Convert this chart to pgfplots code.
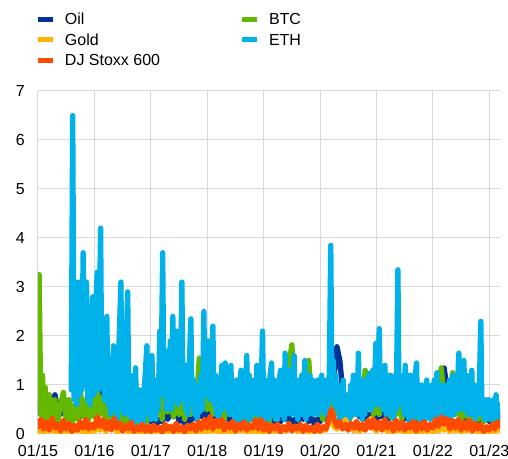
\documentclass[border=0pt]{standalone}
\usepackage{fontspec}
\setmainfont{Liberation Sans}
\usepackage{pgfplots}
\pgfplotsset{compat=1.18}
\definecolor{cOil}{HTML}{003299}
\definecolor{cGold}{HTML}{FFB400}
\definecolor{cStoxx}{HTML}{FF4B00}
\definecolor{cBTC}{HTML}{65B800}
\definecolor{cETH}{HTML}{00B1EA}
\definecolor{cGrid}{HTML}{D9D9D9}
\begin{document}
\fontsize{12}{14}\selectfont
\begin{tikzpicture}
\useasboundingbox (-28.5pt,-18.75pt) rectangle (352.5pt,325.5pt);
\begin{axis}[
 scale only axis, width=346.5pt, height=257.25pt,
 xmin=2015, xmax=2023.19, ymin=0, ymax=7,
 xtick={2015,2016,2017,2018,2019,2020,2021,2022,2023},
 xticklabels={01/15,01/16,01/17,01/18,01/19,01/20,01/21,01/22,01/23},
 ytick={0,1,2,3,4,5,6,7},
 grid=major, grid style={cGrid, line width=0.75pt},
 axis line style={draw=none},
 major tick length=0pt,
 /pgf/number format/assume math mode=true,
 tick label style={font=\fontsize{12}{14}\selectfont, inner sep=0pt, text depth=0pt},
 xticklabel style={anchor=north, yshift=-8.25pt},
 yticklabel style={anchor=east, xshift=-9.75pt},
 legend columns=2,
 legend cell align=left,
 legend style={at={(axis description cs:0,1)}, anchor=south west, yshift=18.75pt,
   draw=none, fill=none, inner sep=0pt, outer sep=0pt, row sep=6.8pt,
   nodes={inner sep=0pt, text height=8.6pt, text depth=0pt, font=\fontsize{12}{14}\selectfont},
   /tikz/every odd column/.append style={column sep=9pt},
   /tikz/every even column/.append style={column sep=61.4pt}},
 legend image code/.code={\fill[#1, draw=none, line width=0pt, sharp corners] (0pt,-1.875pt) rectangle (11.25pt,1.875pt);},
 every axis plot/.append style={line width=4pt, line join=round, line cap=round},
]
% Oil
\addplot[cOil, forget plot] coordinates {
(2015.00,0.60)(2015.05,0.40)(2015.10,0.75)(2015.15,0.45)(2015.20,0.55)(2015.25,0.35)(2015.30,0.80)(2015.35,0.50)(2015.40,0.40)(2015.45,0.65)(2015.50,0.35)(2015.55,0.55)(2015.60,0.30)(2015.65,0.45)(2015.70,0.60)(2015.75,0.35)(2015.80,0.50)(2015.85,0.30)(2015.90,0.55)(2015.95,0.45)
(2016.00,0.70)(2016.05,0.95)(2016.10,0.60)(2016.15,0.85)(2016.20,0.50)(2016.25,0.65)(2016.30,0.40)(2016.35,0.55)(2016.40,0.35)(2016.45,0.50)(2016.50,0.30)(2016.55,0.45)(2016.60,0.25)(2016.65,0.40)(2016.70,0.30)(2016.75,0.50)(2016.80,0.25)(2016.85,0.40)(2016.90,0.30)(2016.95,0.45)
(2017.00,0.25)(2017.05,0.35)(2017.10,0.20)(2017.15,0.30)(2017.20,0.25)(2017.25,0.40)(2017.30,0.30)(2017.35,0.45)(2017.40,0.35)(2017.45,0.50)(2017.50,0.25)(2017.55,0.35)(2017.60,0.20)(2017.65,0.30)(2017.70,0.25)(2017.75,0.40)(2017.80,0.30)(2017.85,0.50)(2017.90,0.35)(2017.95,0.45)
(2018.00,0.30)(2018.05,0.45)(2018.10,0.25)(2018.15,0.40)(2018.20,0.20)(2018.25,0.35)(2018.30,0.30)(2018.35,0.40)(2018.40,0.25)(2018.45,0.35)(2018.50,0.20)(2018.55,0.30)(2018.60,0.25)(2018.65,0.35)(2018.70,0.20)(2018.75,0.40)(2018.80,0.30)(2018.85,0.45)(2018.90,0.35)(2018.95,0.50)
(2019.00,0.30)(2019.05,0.40)(2019.10,0.25)(2019.15,0.35)(2019.20,0.20)(2019.25,0.30)(2019.30,0.25)(2019.35,0.40)(2019.40,0.30)(2019.45,0.35)(2019.50,0.20)(2019.55,0.30)(2019.60,0.25)(2019.65,0.35)(2019.70,0.30)(2019.75,0.45)(2019.80,0.25)(2019.85,0.35)(2019.90,0.20)(2019.95,0.30)
(2020.00,0.25)(2020.05,0.35)(2020.10,0.30)(2020.15,0.50)(2020.20,0.90)(2020.25,1.20)(2020.30,1.78)(2020.35,1.50)(2020.40,0.90)(2020.45,0.70)(2020.50,0.50)(2020.55,0.60)(2020.60,0.40)(2020.65,0.50)(2020.70,0.35)(2020.75,0.45)(2020.80,0.30)(2020.85,0.40)(2020.90,0.35)(2020.95,0.50)
(2021.00,0.30)(2021.05,0.40)(2021.10,0.35)(2021.15,0.45)(2021.20,0.30)(2021.25,0.40)(2021.30,0.35)(2021.35,0.50)(2021.40,0.45)(2021.45,0.55)(2021.50,0.30)(2021.55,0.40)(2021.60,0.25)(2021.65,0.35)(2021.70,0.30)(2021.75,0.40)(2021.80,0.30)(2021.85,0.45)(2021.90,0.35)(2021.95,0.50)
(2022.00,0.40)(2022.05,0.60)(2022.10,0.90)(2022.15,1.30)(2022.20,1.35)(2022.25,0.90)(2022.30,0.60)(2022.35,0.50)(2022.40,0.40)(2022.45,0.55)(2022.50,0.35)(2022.55,0.45)(2022.60,0.30)(2022.65,0.40)(2022.70,0.30)(2022.75,0.45)(2022.80,0.25)(2022.85,0.35)(2022.90,0.30)(2022.95,0.40)
(2023.00,0.25)(2023.05,0.35)(2023.10,0.30)(2023.15,0.40)(2023.20,0.30)
};
% BTC
\addplot[cBTC, forget plot] coordinates {
(2015.00,0.50)(2015.02,3.25)(2015.05,0.40)(2015.08,1.20)(2015.10,0.30)(2015.13,0.95)(2015.15,0.30)(2015.20,0.80)(2015.25,0.35)(2015.30,0.70)(2015.35,0.25)(2015.40,0.60)(2015.45,0.85)(2015.50,0.30)(2015.55,0.70)(2015.60,0.20)(2015.65,0.60)(2015.70,0.30)(2015.75,0.90)(2015.80,0.35)(2015.85,0.70)(2015.90,0.30)(2015.95,0.80)
(2016.00,0.35)(2016.05,0.90)(2016.10,0.40)(2016.15,0.75)(2016.20,0.30)(2016.25,0.60)(2016.30,0.25)(2016.35,0.55)(2016.40,0.20)(2016.45,0.65)(2016.50,0.15)(2016.55,0.50)(2016.60,0.20)(2016.65,0.45)(2016.70,0.10)(2016.75,0.40)(2016.80,0.15)(2016.85,0.50)(2016.90,0.10)(2016.95,0.60)
(2017.00,0.30)(2017.05,0.80)(2017.10,0.40)(2017.15,0.90)(2017.20,0.30)(2017.25,1.00)(2017.30,0.45)(2017.35,0.85)(2017.40,0.35)(2017.45,0.90)(2017.50,0.40)(2017.55,0.80)(2017.60,0.30)(2017.65,0.75)(2017.70,0.40)(2017.75,0.90)(2017.80,0.50)(2017.86,1.55)(2017.90,0.60)(2017.95,1.10)
(2018.00,0.50)(2018.05,1.20)(2018.10,0.40)(2018.15,0.90)(2018.20,0.35)(2018.25,0.80)(2018.30,0.30)(2018.35,0.70)(2018.40,0.40)(2018.45,0.75)(2018.50,0.30)(2018.55,0.60)(2018.60,0.35)(2018.65,0.70)(2018.70,0.25)(2018.75,0.65)(2018.80,0.30)(2018.85,0.80)(2018.90,0.35)(2018.95,0.70)
(2019.00,0.30)(2019.05,0.60)(2019.10,0.25)(2019.15,0.70)(2019.20,0.40)(2019.25,0.90)(2019.30,0.50)(2019.35,1.20)(2019.40,0.60)(2019.45,1.40)(2019.50,1.82)(2019.55,0.80)(2019.60,0.50)(2019.65,1.00)(2019.70,0.45)(2019.75,1.20)(2019.80,1.50)(2019.85,0.60)(2019.90,0.90)(2019.95,0.40)
(2020.00,0.70)(2020.05,0.30)(2020.10,0.80)(2020.15,0.50)(2020.20,1.00)(2020.25,0.40)(2020.30,0.90)(2020.35,0.30)(2020.40,0.70)(2020.45,0.25)(2020.50,0.80)(2020.55,0.35)(2020.60,0.90)(2020.65,0.40)(2020.70,1.00)(2020.75,0.50)(2020.80,1.30)(2020.85,0.60)(2020.90,0.90)(2020.95,0.40)
(2021.00,0.80)(2021.05,0.40)(2021.10,1.00)(2021.15,0.50)(2021.20,0.90)(2021.25,0.35)(2021.30,0.80)(2021.35,0.40)(2021.40,0.85)(2021.45,0.30)(2021.50,0.70)(2021.55,0.40)(2021.60,0.80)(2021.65,0.35)(2021.70,0.60)(2021.75,0.30)(2021.80,0.70)(2021.85,0.35)(2021.90,0.80)(2021.95,0.40)
(2022.00,0.70)(2022.05,0.30)(2022.10,0.90)(2022.15,1.35)(2022.20,0.60)(2022.25,0.50)(2022.30,0.80)(2022.35,1.25)(2022.40,0.40)(2022.45,0.70)(2022.50,0.30)(2022.55,0.60)(2022.60,0.35)(2022.65,0.70)(2022.70,0.25)(2022.75,0.50)(2022.80,0.30)(2022.85,0.60)(2022.90,0.25)(2022.95,0.45)
(2023.00,0.30)(2023.05,0.50)(2023.10,0.25)(2023.15,0.45)(2023.20,0.30)
};
% ETH
\addplot[cETH, forget plot] coordinates {
(2015.59,0.9)(2015.615,6.5)(2015.64,0.7)(2015.665,1.6)(2015.685,0.6)(2015.71,3.1)(2015.735,0.8)(2015.755,2.6)(2015.775,0.9)(2015.80,3.7)(2015.825,1.0)(2015.845,2.4)(2015.86,3.1)(2015.88,0.7)(2015.90,1.8)(2015.92,0.6)(2015.945,2.0)(2015.97,2.8)(2015.99,0.8)
(2016.01,2.2)(2016.05,3.3)(2016.07,0.9)(2016.09,2.5)(2016.11,4.2)(2016.13,1.0)(2016.155,2.3)(2016.175,0.7)(2016.20,1.9)(2016.22,2.4)(2016.24,0.6)(2016.265,1.4)(2016.285,0.4)(2016.31,1.2)(2016.34,1.8)(2016.36,0.5)(2016.385,1.3)(2016.405,0.3)(2016.43,1.6)(2016.47,3.1)(2016.49,0.5)(2016.51,2.0)(2016.53,0.4)(2016.555,1.5)(2016.59,2.9)(2016.61,0.4)(2016.635,1.2)(2016.655,0.2)(2016.68,0.8)(2016.70,0.2)(2016.73,1.35)(2016.75,0.3)(2016.775,0.8)(2016.80,0.9)(2016.82,0.2)(2016.845,0.7)(2016.865,0.15)(2016.89,1.0)(2016.93,1.8)(2016.95,0.4)(2016.975,1.2)
(2017.00,0.3)(2017.02,1.6)(2017.04,0.4)(2017.065,1.0)(2017.085,0.3)(2017.11,1.1)(2017.13,0.5)(2017.16,2.1)(2017.18,0.8)(2017.21,3.7)(2017.23,0.9)(2017.255,1.7)(2017.275,0.5)(2017.30,1.5)(2017.32,0.6)(2017.345,1.9)(2017.365,0.5)(2017.39,2.4)(2017.41,0.7)(2017.44,1.8)(2017.46,2.1)(2017.48,0.6)(2017.505,1.5)(2017.525,0.7)(2017.55,3.1)(2017.57,0.8)(2017.595,1.2)(2017.615,0.5)(2017.635,1.4)(2017.655,0.4)(2017.68,1.3)(2017.71,2.35)(2017.73,0.6)(2017.755,1.1)(2017.775,0.4)(2017.80,1.0)(2017.82,0.3)(2017.845,0.9)(2017.865,0.45)(2017.89,1.2)(2017.915,0.5)(2017.94,2.5)(2017.96,0.8)(2017.98,1.4)
(2018.02,1.9)(2018.04,0.7)(2018.065,1.5)(2018.085,0.8)(2018.10,2.2)(2018.12,0.6)(2018.145,1.2)(2018.165,0.4)(2018.19,0.9)(2018.21,0.3)(2018.235,1.0)(2018.26,1.4)(2018.28,0.5)(2018.30,1.2)(2018.32,1.45)(2018.34,0.6)(2018.365,1.3)(2018.385,0.4)(2018.42,1.4)(2018.44,0.4)(2018.465,1.0)(2018.485,0.3)(2018.52,1.1)(2018.54,0.2)(2018.575,1.0)(2018.60,1.3)(2018.62,0.3)(2018.645,0.9)(2018.665,0.2)(2018.70,1.6)(2018.72,0.5)(2018.745,1.2)(2018.765,0.3)(2018.79,1.1)(2018.81,0.4)(2018.835,1.0)(2018.855,0.5)(2018.88,1.4)(2018.90,0.4)(2018.925,1.2)(2018.945,0.3)(2018.98,2.1)
(2019.00,0.5)(2019.025,1.1)(2019.045,0.3)(2019.07,1.0)(2019.09,0.3)(2019.115,1.2)(2019.14,1.45)(2019.16,0.4)(2019.185,1.1)(2019.205,0.3)(2019.23,0.9)(2019.25,0.3)(2019.275,1.1)(2019.30,1.3)(2019.32,0.4)(2019.345,1.0)(2019.365,0.3)(2019.38,1.65)(2019.40,0.4)(2019.425,1.2)(2019.445,0.5)(2019.47,1.3)(2019.49,0.4)(2019.515,1.1)(2019.54,1.6)(2019.56,0.4)(2019.585,1.0)(2019.605,0.3)(2019.63,1.1)(2019.65,0.4)(2019.675,1.2)(2019.695,0.4)(2019.73,1.5)(2019.75,0.3)(2019.775,1.0)(2019.795,0.4)(2019.82,1.2)(2019.84,0.5)(2019.865,1.1)(2019.885,0.4)(2019.91,1.0)(2019.93,0.5)(2019.955,1.1)(2019.975,0.4)
(2020.00,1.0)(2020.03,1.2)(2020.05,0.5)(2020.075,1.0)(2020.095,0.4)(2020.12,1.1)(2020.14,0.5)(2020.165,1.3)(2020.19,3.85)(2020.21,0.8)(2020.235,1.5)(2020.255,0.6)(2020.28,1.2)(2020.30,0.5)(2020.325,1.0)(2020.345,0.3)(2020.37,0.9)(2020.39,0.2)(2020.41,1.1)(2020.43,0.2)(2020.455,0.7)(2020.475,0.2)(2020.50,0.8)(2020.52,0.3)(2020.545,1.0)(2020.565,0.4)(2020.59,1.2)(2020.61,0.4)(2020.635,1.1)(2020.655,0.4)(2020.68,1.65)(2020.70,0.4)(2020.725,1.0)(2020.745,0.3)(2020.77,1.1)(2020.79,0.4)(2020.815,1.0)(2020.835,0.5)(2020.86,1.2)(2020.89,1.25)(2020.91,0.5)(2020.935,1.3)(2020.955,0.6)(2020.99,1.85)
(2021.01,0.6)(2021.05,2.15)(2021.07,0.6)(2021.095,1.3)(2021.115,0.5)(2021.15,1.4)(2021.17,0.4)(2021.195,1.0)(2021.215,0.4)(2021.24,1.2)(2021.26,0.4)(2021.285,1.0)(2021.305,0.3)(2021.33,1.2)(2021.35,0.5)(2021.38,3.35)(2021.40,0.6)(2021.425,1.2)(2021.445,0.6)(2021.47,1.1)(2021.49,0.4)(2021.51,1.4)(2021.53,0.4)(2021.555,1.0)(2021.575,0.3)(2021.60,1.2)(2021.62,0.4)(2021.645,1.1)(2021.665,0.3)(2021.69,1.2)(2021.71,1.45)(2021.73,0.4)(2021.755,1.0)(2021.775,0.3)(2021.80,1.0)(2021.82,0.4)(2021.845,0.9)(2021.865,0.3)(2021.89,1.1)(2021.91,0.4)(2021.935,0.9)(2021.955,0.3)(2021.98,1.0)
(2022.00,0.4)(2022.025,1.1)(2022.045,0.3)(2022.07,1.25)(2022.09,0.4)(2022.115,1.0)(2022.135,0.3)(2022.16,1.0)(2022.18,0.4)(2022.205,0.9)(2022.225,0.3)(2022.25,1.0)(2022.27,0.4)(2022.295,1.1)(2022.315,0.3)(2022.34,1.0)(2022.36,1.2)(2022.38,0.4)(2022.40,1.0)(2022.42,0.5)(2022.46,1.65)(2022.48,0.5)(2022.505,1.2)(2022.525,0.6)(2022.55,1.5)(2022.57,0.5)(2022.595,1.2)(2022.615,0.4)(2022.64,1.1)(2022.66,0.4)(2022.69,1.3)(2022.71,0.4)(2022.735,1.0)(2022.755,0.3)(2022.78,0.9)(2022.80,0.4)(2022.825,1.0)(2022.85,2.3)(2022.87,0.4)(2022.895,0.7)(2022.915,0.3)(2022.94,0.7)(2022.96,0.3)(2022.985,0.7)
(2023.005,0.3)(2023.03,0.6)(2023.05,0.3)(2023.075,0.7)(2023.095,0.4)(2023.12,0.8)(2023.14,0.3)(2023.165,0.6)(2023.185,0.3)(2023.20,0.45)
};
% Gold
\addplot[cGold, forget plot] coordinates {
(2015.00,0.05)(2015.05,0.10)(2015.10,0.03)(2015.15,0.12)(2015.20,0.06)(2015.25,0.15)(2015.30,0.04)(2015.35,0.10)(2015.40,0.02)(2015.45,0.08)(2015.50,0.05)(2015.55,0.12)(2015.60,0.03)(2015.65,0.10)(2015.70,0.06)(2015.75,0.14)(2015.80,0.04)(2015.85,0.09)(2015.90,0.03)(2015.95,0.10)
(2016.00,0.06)(2016.05,0.15)(2016.10,0.08)(2016.15,0.20)(2016.20,0.05)(2016.25,0.12)(2016.30,0.10)(2016.35,0.18)(2016.40,0.04)(2016.45,0.10)(2016.50,0.06)(2016.55,0.14)(2016.60,0.03)(2016.65,0.08)(2016.70,0.05)(2016.75,0.10)(2016.80,0.03)(2016.85,0.08)(2016.90,0.04)(2016.95,0.10)
(2017.00,0.03)(2017.05,0.08)(2017.10,0.05)(2017.15,0.10)(2017.20,0.02)(2017.25,0.07)(2017.30,0.04)(2017.35,0.12)(2017.40,0.03)(2017.45,0.08)(2017.50,0.05)(2017.55,0.10)(2017.60,0.02)(2017.65,0.06)(2017.70,0.04)(2017.75,0.09)(2017.80,0.03)(2017.85,0.10)(2017.90,0.05)(2017.95,0.12)
(2018.00,0.04)(2018.05,0.10)(2018.10,0.06)(2018.15,0.14)(2018.20,0.03)(2018.25,0.08)(2018.30,0.05)(2018.35,0.11)(2018.40,0.02)(2018.45,0.07)(2018.50,0.04)(2018.55,0.12)(2018.60,0.06)(2018.65,0.15)(2018.70,0.03)(2018.75,0.09)(2018.80,0.05)(2018.85,0.12)(2018.90,0.04)(2018.95,0.10)
(2019.00,0.03)(2019.05,0.08)(2019.10,0.05)(2019.15,0.12)(2019.20,0.04)(2019.25,0.10)(2019.30,0.06)(2019.35,0.15)(2019.40,0.05)(2019.45,0.18)(2019.50,0.08)(2019.55,0.14)(2019.60,0.04)(2019.65,0.10)(2019.70,0.06)(2019.75,0.12)(2019.80,0.03)(2019.85,0.08)(2019.90,0.05)(2019.95,0.10)
(2020.00,0.04)(2020.05,0.10)(2020.10,0.08)(2020.15,0.20)(2020.20,0.38)(2020.25,0.15)(2020.30,0.10)(2020.35,0.22)(2020.40,0.12)(2020.45,0.30)(2020.50,0.08)(2020.55,0.18)(2020.60,0.06)(2020.65,0.14)(2020.70,0.05)(2020.75,0.12)(2020.80,0.08)(2020.85,0.20)(2020.90,0.32)(2020.95,0.12)
(2021.00,0.06)(2021.05,0.15)(2021.10,0.08)(2021.15,0.12)(2021.20,0.05)(2021.25,0.10)(2021.30,0.04)(2021.35,0.09)(2021.40,0.06)(2021.45,0.12)(2021.50,0.03)(2021.55,0.08)(2021.60,0.05)(2021.65,0.10)(2021.70,0.04)(2021.75,0.08)(2021.80,0.03)(2021.85,0.10)(2021.90,0.05)(2021.95,0.12)
(2022.00,0.04)(2022.05,0.10)(2022.10,0.06)(2022.15,0.18)(2022.20,0.08)(2022.25,0.14)(2022.30,0.05)(2022.35,0.12)(2022.40,0.06)(2022.45,0.15)(2022.50,0.04)(2022.55,0.10)(2022.60,0.06)(2022.65,0.12)(2022.70,0.05)(2022.75,0.14)(2022.80,0.04)(2022.85,0.10)(2022.90,0.03)(2022.95,0.08)
(2023.00,0.04)(2023.05,0.10)(2023.10,0.05)(2023.15,0.12)(2023.20,0.06)
};
% DJ Stoxx 600
\addplot[cStoxx, forget plot] coordinates {
(2015.00,0.15)(2015.05,0.30)(2015.10,0.10)(2015.15,0.25)(2015.20,0.08)(2015.25,0.32)(2015.30,0.12)(2015.35,0.20)(2015.40,0.06)(2015.45,0.28)(2015.50,0.10)(2015.55,0.22)(2015.60,0.05)(2015.65,0.18)(2015.70,0.08)(2015.75,0.25)(2015.80,0.12)(2015.85,0.30)(2015.90,0.10)(2015.95,0.20)
(2016.00,0.12)(2016.05,0.35)(2016.10,0.15)(2016.15,0.30)(2016.20,0.10)(2016.25,0.25)(2016.30,0.08)(2016.35,0.32)(2016.40,0.12)(2016.45,0.22)(2016.50,0.06)(2016.55,0.18)(2016.60,0.10)(2016.65,0.24)(2016.70,0.05)(2016.75,0.15)(2016.80,0.08)(2016.85,0.20)(2016.90,0.06)(2016.95,0.16)
(2017.00,0.05)(2017.05,0.18)(2017.10,0.08)(2017.15,0.14)(2017.20,0.04)(2017.25,0.20)(2017.30,0.10)(2017.35,0.16)(2017.40,0.05)(2017.45,0.22)(2017.50,0.08)(2017.55,0.15)(2017.60,0.04)(2017.65,0.18)(2017.70,0.10)(2017.75,0.20)(2017.80,0.06)(2017.85,0.25)(2017.90,0.10)(2017.95,0.30)
(2018.00,0.12)(2018.05,0.35)(2018.10,0.10)(2018.15,0.28)(2018.20,0.15)(2018.25,0.30)(2018.30,0.08)(2018.35,0.22)(2018.40,0.12)(2018.45,0.26)(2018.50,0.06)(2018.55,0.20)(2018.60,0.10)(2018.65,0.25)(2018.70,0.08)(2018.75,0.18)(2018.80,0.12)(2018.85,0.28)(2018.90,0.10)(2018.95,0.30)
(2019.00,0.08)(2019.05,0.22)(2019.10,0.05)(2019.15,0.18)(2019.20,0.10)(2019.25,0.20)(2019.30,0.04)(2019.35,0.15)(2019.40,0.08)(2019.45,0.22)(2019.50,0.06)(2019.55,0.16)(2019.60,0.10)(2019.65,0.20)(2019.70,0.05)(2019.75,0.18)(2019.80,0.08)(2019.85,0.14)(2019.90,0.05)(2019.95,0.20)
(2020.00,0.06)(2020.05,0.15)(2020.10,0.10)(2020.15,0.28)(2020.20,0.50)(2020.25,0.30)(2020.30,0.15)(2020.35,0.25)(2020.40,0.10)(2020.45,0.20)(2020.50,0.08)(2020.55,0.22)(2020.60,0.12)(2020.65,0.26)(2020.70,0.10)(2020.75,0.20)(2020.80,0.08)(2020.85,0.28)(2020.90,0.12)(2020.95,0.30)
(2021.00,0.10)(2021.05,0.25)(2021.10,0.08)(2021.15,0.30)(2021.20,0.12)(2021.25,0.22)(2021.30,0.06)(2021.35,0.28)(2021.40,0.10)(2021.45,0.24)(2021.50,0.08)(2021.55,0.20)(2021.60,0.12)(2021.65,0.26)(2021.70,0.06)(2021.75,0.22)(2021.80,0.10)(2021.85,0.25)(2021.90,0.08)(2021.95,0.20)
(2022.00,0.12)(2022.05,0.30)(2022.10,0.15)(2022.15,0.35)(2022.20,0.20)(2022.25,0.32)(2022.30,0.10)(2022.35,0.28)(2022.40,0.12)(2022.45,0.30)(2022.50,0.08)(2022.55,0.25)(2022.60,0.10)(2022.65,0.28)(2022.70,0.06)(2022.75,0.22)(2022.80,0.10)(2022.85,0.20)(2022.90,0.05)(2022.95,0.15)
(2023.00,0.08)(2023.05,0.20)(2023.10,0.10)(2023.15,0.25)(2023.20,0.15)
};
\addlegendimage{cOil}\addlegendentry{Oil}
\addlegendimage{cBTC}\addlegendentry{BTC}
\addlegendimage{cGold}\addlegendentry{Gold}
\addlegendimage{cETH}\addlegendentry{ETH}
\addlegendimage{cStoxx}\addlegendentry{DJ Stoxx 600}
\end{axis}
\end{tikzpicture}
\end{document}
